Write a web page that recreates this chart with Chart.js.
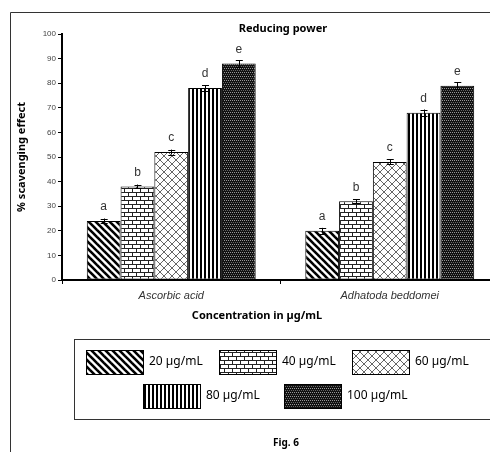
<!DOCTYPE html>
<html>
<head>
<meta charset="utf-8">
<script src="https://cdn.jsdelivr.net/npm/chart.js@4.4.0/dist/chart.umd.min.js"></script>
<style>
  html, body { margin: 0; padding: 0; background: #fff; overflow: hidden; }
  canvas { display: block; }
</style>
</head>
<body>
<canvas id="chart" width="510" height="452"></canvas>
<script>
// data
const categories = ['Ascorbic acid', 'Adhatoda beddomei'];
const seriesNames = ['20 µg/mL', '40 µg/mL', '60 µg/mL', '80 µg/mL', '100 µg/mL'];
const values20 = [24, 20];
const values40 = [38, 32];
const values60 = [52, 48];
const values80 = [78, 68];
const values100 = [88, 79];
const errors20 = [1.0, 1.2];
const errors40 = [0.8, 0.8];
const errors60 = [1.0, 1.0];
const errors80 = [1.2, 1.3];
const errors100 = [1.3, 1.4];
const letters = ['a', 'b', 'c', 'd', 'e'];
const yMin = 0;
const yMax = 100;
const yStep = 10;

const ARIAL = 'Arial, "Liberation Sans", sans-serif';
const SANS = '"Noto Sans", "Open Sans", sans-serif';

function makeTile(w, h, paint) {
  const c = document.createElement('canvas');
  c.width = w;
  c.height = h;
  const g = c.getContext('2d');
  g.fillStyle = '#fff';
  g.fillRect(0, 0, w, h);
  paint(g);
  return document.getElementById('chart').getContext('2d').createPattern(c, 'repeat');
}

const patDiag = makeTile(7, 7, g => {
  g.strokeStyle = '#000';
  g.lineWidth = 2.6;
  [-7, 0, 7].forEach(o => {
    g.beginPath();
    g.moveTo(o - 1, -1);
    g.lineTo(o + 8, 8);
    g.stroke();
  });
});

const patBrick = makeTile(8, 8, g => {
  g.fillStyle = '#222';
  g.fillRect(0, 0, 8, 1);
  g.fillRect(0, 4, 8, 1);
  g.fillRect(0, 0, 1, 4);
  g.fillRect(4, 4, 1, 4);
});

const patCross = makeTile(8, 8, g => {
  g.strokeStyle = '#666';
  g.lineWidth = 1;
  g.beginPath();
  g.moveTo(0, 0); g.lineTo(8, 8);
  g.moveTo(8, 0); g.lineTo(0, 8);
  g.stroke();
});

const patVert = makeTile(4, 2, g => {
  g.fillStyle = '#000';
  g.fillRect(0, 0, 2, 2);
});

const patDense = makeTile(4, 4, g => {
  g.fillStyle = '#111';
  g.fillRect(0, 0, 4, 4);
  g.fillStyle = '#999';
  g.fillRect(0, 0, 1, 1);
  g.fillRect(2, 0, 1, 1);
  g.fillStyle = '#666';
  g.fillRect(1, 2, 1, 1);
  g.fillRect(3, 2, 1, 1);
});

const patterns = [patDiag, patBrick, patCross, patVert, patDense];
const seriesValues = [values20, values40, values60, values80, values100];
const seriesErrors = [errors20, errors40, errors60, errors80, errors100];

const datasets = seriesNames.map((name, i) => ({
  label: name,
  data: seriesValues[i],
  errors: seriesErrors[i],
  backgroundColor: patterns[i],
  borderColor: '#000',
  borderWidth: 1,
  borderSkipped: false,
  categoryPercentage: 0.773,
  barPercentage: 1.0
}));

// error bars, letters, frame, texts and the boxed legend
const decor = {
  id: 'decor',
  beforeDraw(chart) {
    const ctx = chart.ctx;
    ctx.save();
    ctx.fillStyle = '#fff';
    ctx.fillRect(0, 0, chart.width, chart.height);
    ctx.strokeStyle = '#333';
    ctx.lineWidth = 1;
    ctx.beginPath();
    ctx.moveTo(10.5, 452);
    ctx.lineTo(10.5, 12.5);
    ctx.lineTo(chart.width, 12.5);
    ctx.stroke();
    ctx.restore();
  },
  afterDatasetsDraw(chart) {
    const ctx = chart.ctx;
    const y = chart.scales.y;
    ctx.save();
    chart.data.datasets.forEach((ds, i) => {
      chart.getDatasetMeta(i).data.forEach((bar, j) => {
        const v = ds.data[j];
        const e = ds.errors[j];
        const top = y.getPixelForValue(v + e);
        const bot = y.getPixelForValue(v - e);
        ctx.strokeStyle = '#000';
        ctx.lineWidth = 1;
        ctx.beginPath();
        ctx.moveTo(Math.round(bar.x) + 0.5, top);
        ctx.lineTo(Math.round(bar.x) + 0.5, bot);
        ctx.moveTo(bar.x - 3, Math.round(top) + 0.5);
        ctx.lineTo(bar.x + 4, Math.round(top) + 0.5);
        ctx.moveTo(bar.x - 3, Math.round(bot) + 0.5);
        ctx.lineTo(bar.x + 4, Math.round(bot) + 0.5);
        ctx.stroke();
        ctx.fillStyle = '#333';
        ctx.font = '12px ' + ARIAL;
        ctx.textAlign = 'center';
        ctx.textBaseline = 'middle';
        ctx.fillText(letters[i], bar.x, y.getPixelForValue(v) - 14);
      });
    });
    ctx.restore();
  },
  afterDraw(chart) {
    const ctx = chart.ctx;
    ctx.save();
    ctx.fillStyle = '#000';
    ctx.textAlign = 'center';
    ctx.textBaseline = 'middle';
    ctx.font = 'bold 11px ' + SANS;
    ctx.fillText('Reducing power', 283, 29);
    ctx.fillText('Concentration in µg/mL', 257, 316);
    ctx.font = 'bold 10px ' + SANS;
    ctx.fillText('Fig. 6', 286, 443);

    ctx.strokeStyle = '#333';
    ctx.lineWidth = 1;
    ctx.strokeRect(74.5, 339.5, 440, 80);

    const slots = [
      [86, 350], [219, 350], [352, 350],
      [143, 384], [284, 384]
    ];
    ctx.textAlign = 'left';
    ctx.font = '12px ' + SANS;
    seriesNames.forEach((name, i) => {
      const [sx, sy] = slots[i];
      ctx.fillStyle = patterns[i];
      ctx.fillRect(sx, sy, 57, 24);
      ctx.strokeStyle = '#000';
      ctx.strokeRect(sx + 0.5, sy + 0.5, 57, 24);
      ctx.fillStyle = '#000';
      ctx.fillText(name, sx + 63, sy + 12);
    });
    ctx.restore();
  }
};

new Chart(document.getElementById('chart'), {
  type: 'bar',
  data: { labels: categories, datasets: datasets },
  options: {
    responsive: false,
    animation: false,
    layout: { padding: { left: 0, right: 11, top: 34, bottom: 122 } },
    plugins: {
      legend: { display: false },
      tooltip: { enabled: false }
    },
    scales: {
      x: {
        ticks: { color: '#333', font: { family: ARIAL, size: 11, style: 'italic' }, padding: 5 },
        grid: { drawOnChartArea: false, drawTicks: true, tickLength: 4, color: '#000', offset: true },
        border: { color: '#000', width: 2 },
        afterFit(s) { s.height = 50; }
      },
      y: {
        min: yMin,
        max: yMax,
        ticks: { stepSize: yStep, color: '#444', font: { family: ARIAL, size: 8 }, padding: 2 },
        grid: { drawOnChartArea: false, drawTicks: true, tickLength: 4, color: '#000' },
        border: { color: '#000', width: 2 },
        title: {
          display: true,
          text: '% scavenging effect',
          color: '#000',
          font: { family: SANS, size: 11, weight: 'bold' },
          padding: { top: 15, bottom: 0 }
        },
        afterFit(s) { s.width = 62; }
      }
    }
  },
  plugins: [decor]
});
</script>
</body>
</html>
